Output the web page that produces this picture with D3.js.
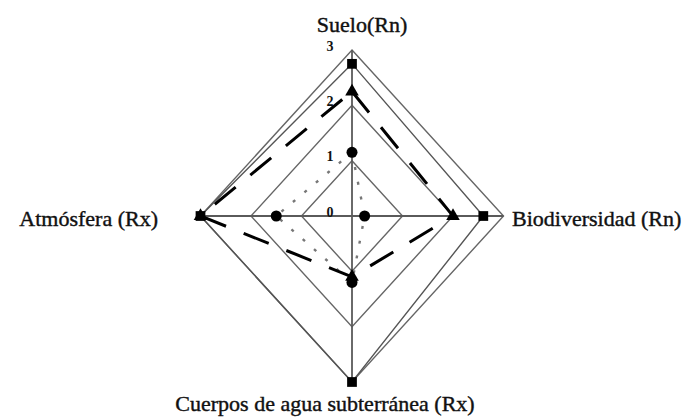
<!DOCTYPE html>
<html>
<head>
<meta charset="utf-8">
<script src="https://cdn.jsdelivr.net/npm/d3@7"></script>
<style>
  body { margin: 0; background: #fff; }
  text { font-family: "Liberation Serif", "Times New Roman", serif; fill: #111; }
</style>
</head>
<body>
<svg id="chart" width="694" height="417"></svg>
<script>
"use strict";

// axis names, clockwise from the top
var ejes = ["Suelo(Rn)", "Biodiversidad (Rn)", "Cuerpos de agua subterránea (Rx)", "Atmósfera (Rx)"];
var tick_values = [0, 1, 2, 3];
var tick_labels = ["0", "1", "2", "3"];

// series values, one per axis
var serie_cuadrado = [2.75, 2.6, 3, 3];
var serie_triangulo = [2.25, 2, 1.1, 3];
var serie_circulo = [1.15, 0.25, 1.2, 1.5];

var cx = 352, cy = 216;
var svg = d3.select('#chart');

// the picture is a bit taller than wide, so use two radial scales
var rx = d3.scaleLinear().domain([0, 3]).range([0, 151.5]);
var ry = d3.scaleLinear().domain([0, 3]).range([0, 166]);

function angle(i) {
    return i * 2 * Math.PI / ejes.length;
}

function point(v, i) {
    return [cx + rx(v) * Math.sin(angle(i)), cy - ry(v) * Math.cos(angle(i))];
}

var closed_line = d3.line().curve(d3.curveLinearClosed);

// grid rings
svg.append('g')
  .selectAll('path')
  .data(tick_values.filter(function(t) { return t > 0; }))
  .enter().append('path')
    .attr('d', function(t) { return closed_line(ejes.map(function(e, i) { return point(t, i); })); })
    .style('fill', 'none')
    .style('stroke', '#666')
    .style('stroke-width', 1.4);

// spokes
svg.append('g')
  .selectAll('line')
  .data(ejes)
  .enter().append('line')
    .attr('x1', cx).attr('y1', cy)
    .attr('x2', function(e, i) { return point(3, i)[0]; })
    .attr('y2', function(e, i) { return point(3, i)[1]; })
    .style('stroke', '#5a5a5a')
    .style('stroke-width', 1.8);

// tick labels on the vertical axis
svg.append('g')
  .selectAll('text')
  .data(tick_values)
  .enter().append('text')
    .attr('x', cx - 22)
    .attr('y', function(t) { return cy - ry(t) + 0.5; })
    .attr('text-anchor', 'middle')
    .style('font-size', '14px')
    .style('font-weight', 'bold')
    .text(function(t, i) { return tick_labels[i]; });

// series lines
function draw_line(values, stroke, width, dash) {
    svg.append('path')
        .attr('d', closed_line(values.map(point)))
        .style('fill', 'none')
        .style('stroke', stroke)
        .style('stroke-width', width)
        .style('stroke-dasharray', dash);
}

draw_line(serie_circulo, '#777', 2.4, '3,12');
draw_line(serie_triangulo, '#000', 3, '27,19');
draw_line(serie_cuadrado, '#555', 1.4, null);

// markers
var symbol = d3.symbol();

function draw_markers(values, type, size) {
    svg.append('g')
      .selectAll('path')
      .data(values)
      .enter().append('path')
        .attr('transform', function(v, i) { var p = point(v, i); return 'translate(' + p[0] + ',' + p[1] + ')'; })
        .attr('d', symbol.type(type).size(size)())
        .style('fill', '#000');
}

draw_markers(serie_circulo, d3.symbolCircle, 95);
draw_markers(serie_triangulo, d3.symbolTriangle, 80);
draw_markers(serie_cuadrado, d3.symbolSquare, 95);

// axis names
var label_pos = [
    {x: 362, y: 32, anchor: 'middle'},
    {x: 512, y: 226, anchor: 'start'},
    {x: 325, y: 411, anchor: 'middle'},
    {x: 158, y: 226, anchor: 'end'}
];

svg.append('g')
  .selectAll('text')
  .data(ejes)
  .enter().append('text')
    .attr('x', function(e, i) { return label_pos[i].x; })
    .attr('y', function(e, i) { return label_pos[i].y; })
    .attr('text-anchor', function(e, i) { return label_pos[i].anchor; })
    .style('font-size', '22px')
    .style('stroke', '#111')
    .style('stroke-width', 0.4)
    .text(function(e) { return e; });
</script>
</body>
</html>
